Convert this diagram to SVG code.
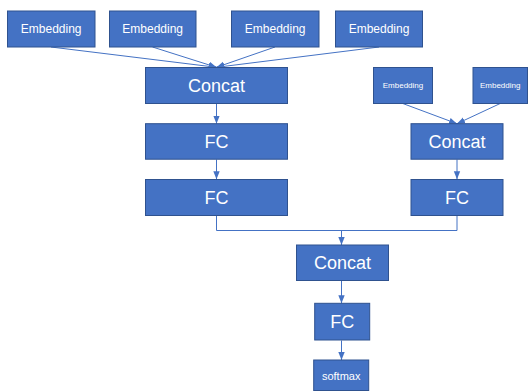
<svg xmlns="http://www.w3.org/2000/svg" width="528" height="391" viewBox="0 0 528 391">
<style>
.box{fill:#4472C4;stroke:#2F528F;stroke-width:1}
.t{fill:#fff;font-family:"Liberation Sans","Noto Sans",sans-serif;text-anchor:middle;dominant-baseline:central}
.c{fill:none;stroke:#4472C4;stroke-width:1}
</style>
<defs>
<marker id="ah" markerUnits="userSpaceOnUse" markerWidth="8" markerHeight="8" viewBox="0 0 8 8" refX="8" refY="4" orient="auto">
<path d="M0,0.8 L8,4 L0,7.2 Z" fill="#4472C4"/>
</marker>
</defs>
<rect width="528" height="391" fill="#fff"/>
<g id="connectors">
<line class="c" x1="51" y1="47" x2="216.5" y2="67.3" marker-end="url(#ah)"/>
<line class="c" x1="152.5" y1="47" x2="216.5" y2="67.3" marker-end="url(#ah)"/>
<line class="c" x1="275" y1="47" x2="216.5" y2="67.3" marker-end="url(#ah)"/>
<line class="c" x1="379" y1="47" x2="216.5" y2="67.3" marker-end="url(#ah)"/>
<line class="c" x1="216.5" y1="104" x2="216.5" y2="123.7" marker-end="url(#ah)"/>
<line class="c" x1="216.5" y1="159.5" x2="216.5" y2="179.3" marker-end="url(#ah)"/>
<line class="c" x1="402.8" y1="103.5" x2="457" y2="123.7" marker-end="url(#ah)"/>
<line class="c" x1="500.2" y1="103.5" x2="457" y2="123.7" marker-end="url(#ah)"/>
<line class="c" x1="457" y1="159.5" x2="457" y2="179.3" marker-end="url(#ah)"/>
<polyline class="c" points="216.5,216 216.5,230.5 457,230.5 457,216"/>
<line class="c" x1="341.5" y1="230.5" x2="341.5" y2="245" marker-end="url(#ah)"/>
<line class="c" x1="341.5" y1="280.5" x2="341.5" y2="303.3" marker-end="url(#ah)"/>
<line class="c" x1="341.5" y1="340.5" x2="341.5" y2="360" marker-end="url(#ah)"/>
</g>
<g id="emb1"><rect class="box" x="7.5" y="11" width="87.5" height="36"/><text class="t" x="51.2" y="29" font-size="12">Embedding</text></g>
<g id="emb2"><rect class="box" x="109.5" y="11" width="86.5" height="36"/><text class="t" x="152.7" y="29" font-size="12">Embedding</text></g>
<g id="emb3"><rect class="box" x="231.5" y="11" width="87.5" height="36"/><text class="t" x="275.2" y="29" font-size="12">Embedding</text></g>
<g id="emb4"><rect class="box" x="335.5" y="11" width="87" height="36"/><text class="t" x="379" y="29" font-size="12">Embedding</text></g>
<g id="concat1"><rect class="box" x="145.5" y="67.5" width="142" height="36"/><text class="t" x="216.5" y="85.5" font-size="18">Concat</text></g>
<g id="fc1"><rect class="box" x="145.5" y="123.7" width="142" height="35.5"/><text class="t" x="216.5" y="141.5" font-size="18">FC</text></g>
<g id="fc2"><rect class="box" x="145.5" y="179.5" width="142" height="36"/><text class="t" x="216.5" y="197.5" font-size="18">FC</text></g>
<g id="semb1"><rect class="box" x="373.5" y="67.5" width="59" height="36"/><text class="t" x="403" y="85.5" font-size="8">Embedding</text></g>
<g id="semb2"><rect class="box" x="473" y="67.5" width="54.5" height="36"/><text class="t" x="500.2" y="85.5" font-size="8">Embedding</text></g>
<g id="concat2"><rect class="box" x="411" y="123.7" width="92" height="35.5"/><text class="t" x="457" y="141.5" font-size="18">Concat</text></g>
<g id="fc3"><rect class="box" x="411" y="179.5" width="92" height="36"/><text class="t" x="457" y="197.5" font-size="18">FC</text></g>
<g id="concat3"><rect class="box" x="296.5" y="245" width="92" height="35.5"/><text class="t" x="342.5" y="262.7" font-size="18">Concat</text></g>
<g id="fc4"><rect class="box" x="314.7" y="303.3" width="55" height="36.7"/><text class="t" x="342.2" y="321.7" font-size="18">FC</text></g>
<g id="softmax"><rect class="box" x="313.7" y="360" width="55" height="30.5"/><text class="t" x="341.2" y="375.5" font-size="11">softmax</text></g>
</svg>
